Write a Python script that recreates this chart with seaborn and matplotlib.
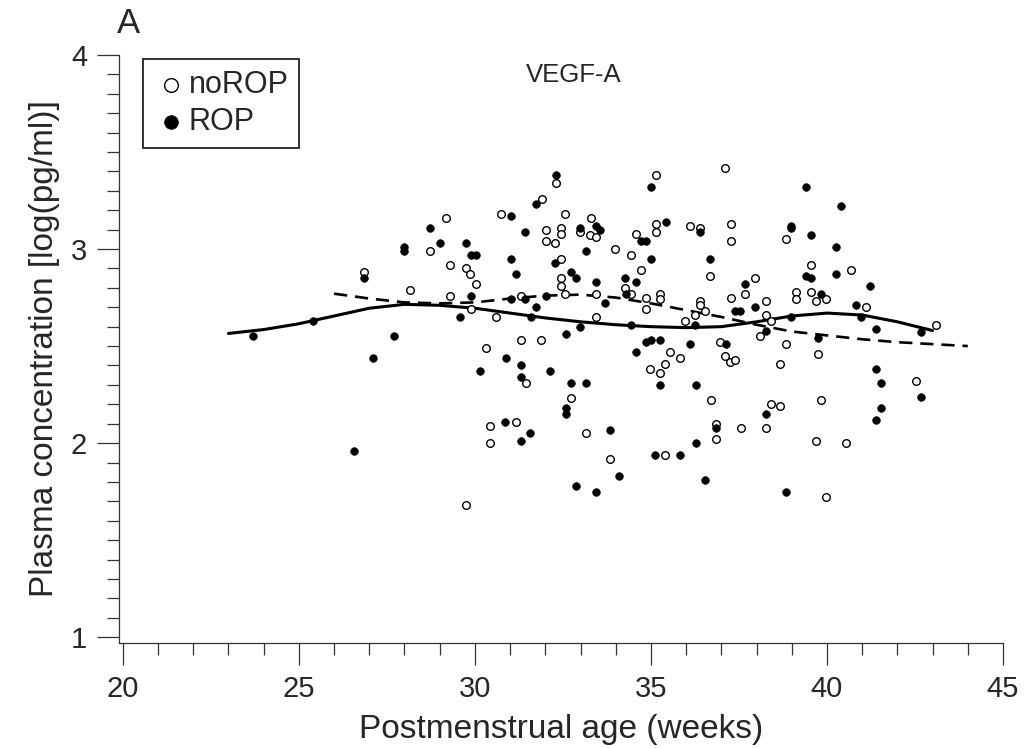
import numpy as np
import pandas as pd
import matplotlib
matplotlib.use('Agg')
import matplotlib.pyplot as plt
import seaborn as sns
from matplotlib.ticker import MultipleLocator

sns.set_style('ticks')
plt.rcParams['font.family'] = ['Liberation Sans', 'DejaVu Sans']

# noROP (open circles): postmenstrual age, log concentration
norop_age = [26.85, 28.15, 32.30, 31.90, 30.74, 32.56, 29.18, 32.02, 32.44, 32.44, 32.02, 32.27,
             32.98, 33.30, 33.27, 33.44, 33.98, 28.72, 29.29, 29.74, 29.86, 30.03, 32.44, 32.44,
             32.44, 29.29, 29.89, 30.60, 31.30, 32.56, 33.44, 33.44, 31.30, 31.87, 30.31,
             31.45, 32.73, 30.43, 31.16, 30.43, 33.15, 33.84, 29.74,
             37.10, 35.14, 34.57, 35.14, 35.14, 36.11, 36.39, 37.27, 37.27, 38.84, 34.43, 34.72,
             36.68, 39.55, 39.12, 39.12, 39.55, 39.69, 34.26, 34.43, 34.86, 34.86, 35.26, 35.26,
             36.39, 36.39, 36.53, 36.25, 35.97, 37.27, 37.95, 37.67, 38.27, 38.27, 38.41, 38.10,
             38.84, 39.74, 36.96, 35.54,
             35.82, 35.40, 34.97, 35.26, 37.10, 37.24, 37.39, 38.67, 36.70, 38.41, 38.67, 36.85,
             37.56, 38.27, 36.85, 35.40, 39.69,
             40.68, 39.97, 41.11, 43.10, 42.53, 39.83, 40.54, 39.97]
norop_conc = [2.88, 2.79, 3.34, 3.26, 3.18, 3.18, 3.16, 3.10, 3.11, 3.08, 3.04, 3.03,
              3.09, 3.16, 3.07, 3.06, 3.00, 2.99, 2.92, 2.90, 2.87, 2.82, 2.95, 2.85,
              2.81, 2.76, 2.69, 2.65, 2.76, 2.77, 2.77, 2.65, 2.53, 2.53, 2.49,
              2.31, 2.23, 2.09, 2.11, 2.00, 2.05, 1.92, 1.68,
              3.42, 3.38, 3.08, 3.13, 3.09, 3.12, 3.11, 3.13, 3.04, 3.05, 2.97, 2.89,
              2.86, 2.92, 2.78, 2.74, 2.78, 2.73, 2.80, 2.77, 2.75, 2.69, 2.77, 2.74,
              2.73, 2.71, 2.68, 2.66, 2.63, 2.75, 2.85, 2.77, 2.73, 2.66, 2.63, 2.55,
              2.51, 2.46, 2.52, 2.47,
              2.44, 2.41, 2.38, 2.36, 2.45, 2.42, 2.43, 2.41, 2.22, 2.20, 2.19, 2.10,
              2.08, 2.08, 2.02, 1.94, 2.01,
              2.89, 2.74, 2.70, 2.61, 2.32, 2.22, 2.00, 1.72]

# ROP (filled circles)
rop_age = [23.70, 25.40, 26.85, 28.00, 28.00, 27.70, 27.10, 26.56,
           32.30, 31.73, 31.02, 28.72, 31.42, 32.98, 33.44, 33.55, 33.15, 29.00, 29.74, 29.89,
           30.03, 31.02, 31.16, 32.27, 32.73, 32.87, 33.44, 29.89, 29.57, 31.02, 31.42, 32.02,
           31.73, 31.59, 33.69, 32.59, 32.98, 30.88,
           30.14, 31.30, 31.30, 32.13, 32.73, 33.15, 32.59, 32.59, 30.85, 31.30, 31.56, 33.84,
           34.09, 32.87, 33.44,
           35.00, 39.40, 35.43, 36.39, 38.98, 38.98, 39.55, 34.72, 34.86, 35.00, 36.68, 39.40,
           39.55, 34.26, 34.57, 34.29, 36.25, 34.43, 37.67, 37.95, 37.39, 37.53, 38.27, 38.98,
           39.74, 34.86, 35.00, 35.26, 36.11, 37.13, 34.57,
           35.26, 36.28, 38.27, 36.85, 36.28, 35.11, 35.82, 36.53, 38.84,
           40.40, 40.26, 40.26, 41.22, 39.83, 40.82, 40.97, 41.39, 42.67,
           41.39, 41.53, 42.67, 41.53, 41.39]
rop_conc = [2.55, 2.63, 2.85, 3.01, 2.99, 2.55, 2.44, 1.96,
            3.38, 3.23, 3.17, 3.11, 3.09, 3.11, 3.12, 3.10, 2.99, 3.03, 3.03, 2.97,
            2.97, 2.95, 2.87, 2.93, 2.88, 2.85, 2.83, 2.76, 2.65, 2.74, 2.74, 2.76,
            2.70, 2.65, 2.72, 2.56, 2.60, 2.44,
            2.37, 2.40, 2.34, 2.37, 2.31, 2.31, 2.18, 2.15, 2.11, 2.01, 2.05, 2.07,
            1.83, 1.78, 1.75,
            3.32, 3.32, 3.14, 3.09, 3.12, 3.11, 3.07, 3.04, 3.04, 2.95, 2.95, 2.86,
            2.85, 2.85, 2.83, 2.77, 2.61, 2.61, 2.82, 2.70, 2.68, 2.68, 2.58, 2.65,
            2.54, 2.52, 2.53, 2.53, 2.51, 2.51, 2.47,
            2.30, 2.30, 2.15, 2.08, 2.00, 1.94, 1.94, 1.81, 1.75,
            3.22, 3.01, 2.87, 2.81, 2.77, 2.71, 2.65, 2.59, 2.57,
            2.38, 2.31, 2.24, 2.18, 2.12]

# smoothed trends
rop_fit_age = [23, 24, 25, 26, 27, 28, 29, 30, 31, 32, 33, 34, 35, 36, 37, 38, 39, 40, 41, 42, 43]
rop_fit = [2.565, 2.585, 2.615, 2.655, 2.695, 2.715, 2.71, 2.695, 2.67, 2.645, 2.625, 2.61,
           2.60, 2.595, 2.60, 2.625, 2.655, 2.67, 2.66, 2.625, 2.58]
norop_fit_age = [26, 27, 28, 29, 30, 31, 32, 33, 34, 35, 36, 37, 38, 39, 40, 41, 42, 43, 44]
norop_fit = [2.77, 2.745, 2.725, 2.72, 2.725, 2.745, 2.76, 2.765, 2.75, 2.72, 2.685, 2.65,
             2.61, 2.575, 2.555, 2.535, 2.52, 2.51, 2.50]

norop = pd.DataFrame({'age': norop_age, 'conc': norop_conc})
rop = pd.DataFrame({'age': rop_age, 'conc': rop_conc})

fig = plt.figure(figsize=(10.3, 7.48), dpi=100)
ax = fig.add_axes([0.1155, 0.1404, 0.9738 - 0.1155, 0.9265 - 0.1404])

sns.lineplot(x=rop_fit_age, y=rop_fit, ax=ax, color='black', lw=2.2,
             sort=False, estimator=None)
sns.lineplot(x=norop_fit_age, y=norop_fit, ax=ax, color='black', lw=1.9,
             linestyle=(0, (5, 3)), sort=False, estimator=None)

sns.scatterplot(data=norop, x='age', y='conc', ax=ax, marker='o', s=30,
                facecolor='white', edgecolor='black', linewidth=1.0, label='noROP', zorder=3)
sns.scatterplot(data=rop, x='age', y='conc', ax=ax, marker='o', s=30,
                color='black', edgecolor='black', linewidth=0.5, label='ROP', zorder=3)

ax.set_xlim(19.89, 45)
ax.set_ylim(0.97, 4)
ax.xaxis.set_major_locator(MultipleLocator(5))
ax.xaxis.set_minor_locator(MultipleLocator(1))
ax.yaxis.set_major_locator(MultipleLocator(1))
ax.yaxis.set_minor_locator(MultipleLocator(0.1))
ax.tick_params(which='major', direction='out', length=16, width=0.9, labelsize=21, pad=7,
               color='#333333')
ax.tick_params(which='minor', direction='out', length=8.5, width=0.9, color='#333333')
sns.despine(ax=ax)
for sp in ['left', 'bottom']:
    ax.spines[sp].set_linewidth(0.9)
    ax.spines[sp].set_color('#333333')

ax.set_xlabel('Postmenstrual age (weeks)', fontsize=24, labelpad=8)
ax.set_ylabel('Plasma concentration [log(pg/ml)]', fontsize=24, labelpad=8)

ax.text(0.514, 0.966, 'VEGF-A', transform=ax.transAxes, fontsize=18.5,
        ha='center', va='center')
fig.text(0.125, 0.968, 'A', fontsize=25, ha='center', va='center')

leg = ax.legend(loc='upper left', bbox_to_anchor=(143 / 1030, 1 - 59 / 748),
                bbox_transform=fig.transFigure, borderaxespad=0, fontsize=22, frameon=True,
                fancybox=False, edgecolor='black', markerscale=1.8,
                handletextpad=0.05, handlelength=1.1, borderpad=0.35, labelspacing=0.25)
leg.get_frame().set_linewidth(1.4)

fig.savefig('out.png', dpi=100)
